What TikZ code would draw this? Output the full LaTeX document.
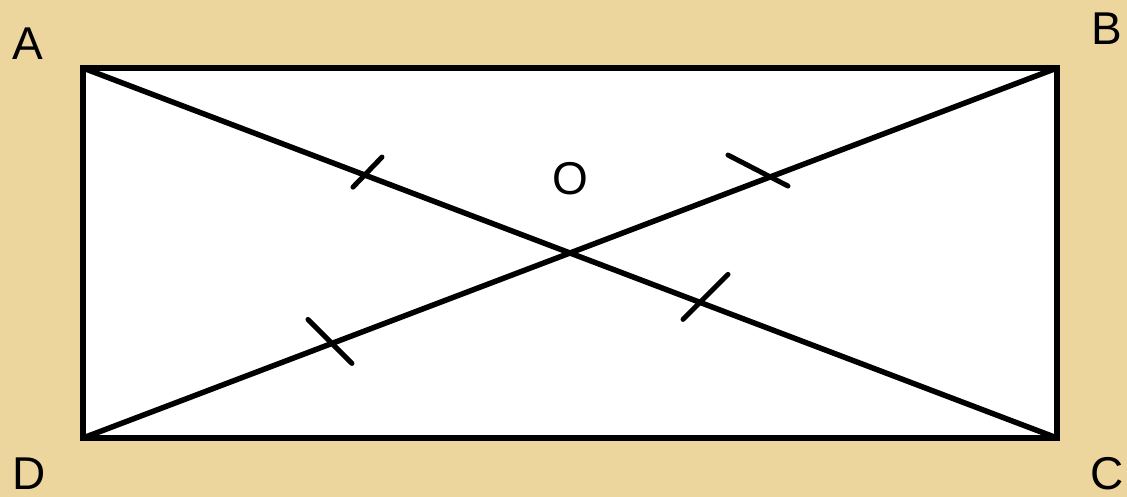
\documentclass[tikz,border=0pt]{standalone}
\usepackage{fontspec}
\setmainfont{Liberation Sans}
\usetikzlibrary{calc}
\definecolor{papyrus}{RGB}{237,213,158}

\begin{document}
\begin{tikzpicture}[x=1pt,y=-1pt,line cap=round,
    edge/.style={line width=5.5pt},
    tickmark/.style={line width=5pt},
    vlabel/.style={inner sep=0pt,font=\fontsize{46}{55}\selectfont}]
  % background and frame
  \fill[papyrus] (0,0) rectangle (1127,497);
  \useasboundingbox (0,0) rectangle (1127,497);
  \coordinate (A) at (83,68);
  \coordinate (B) at (1057,68);
  \coordinate (C) at (1057,438);
  \coordinate (D) at (83,438);
  \filldraw[fill=white,edge,line join=miter] (A) -- (B) -- (C) -- (D) -- cycle;
  % diagonals
  \draw[edge] (A) -- (C);
  \draw[edge] (D) -- (B);
  % equal halves
  \coordinate (t1) at ($(A)!0.2895!(C)$);
  \coordinate (t2) at ($(A)!0.6335!(C)$);
  \coordinate (t3) at ($(D)!0.7053!(B)$);
  \coordinate (t4) at ($(D)!0.2556!(B)$);
  \draw[tickmark] ($(t1)+(-12,12)$) -- ($(t1)+(17,-18)$);
  \draw[tickmark] ($(t2)+(-17,17)$) -- ($(t2)+(28,-28)$);
  \draw[tickmark] ($(t3)+(-42,-22)$) -- ($(t3)+(18,9)$);
  \draw[tickmark] ($(t4)+(-24,-24)$) -- ($(t4)+(20,20)$);
  % labels
  \node[vlabel] (lA) at (27.5,44) {A};
  \node[vlabel] (lB) at (1107,29) {B};
  \node[vlabel] (lC) at (1107,474) {C};
  \node[vlabel] (lD) at (29,474) {D};
  \node[vlabel] (lO) at (570,179) {O};
\end{tikzpicture}
\end{document}
